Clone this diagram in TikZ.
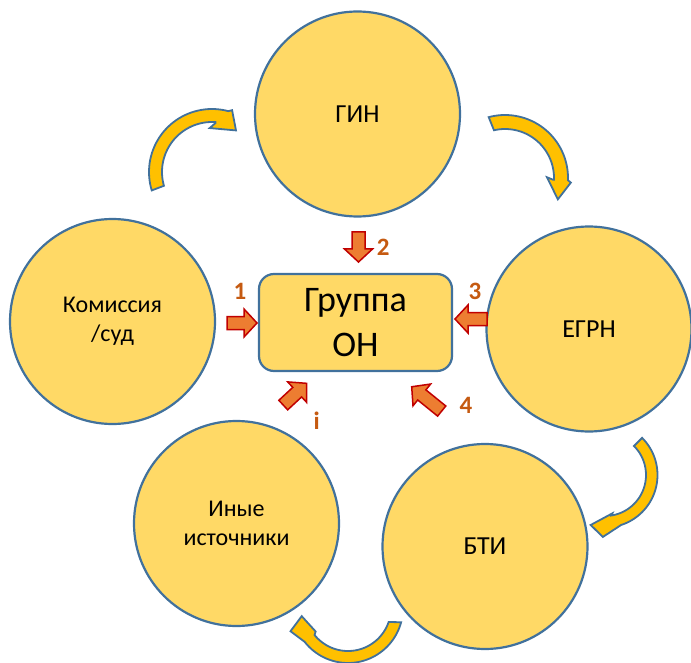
\documentclass[tikz,border=0pt]{standalone}
\usepackage{fontspec}
\setmainfont{Carlito}
\definecolor{circfill}{HTML}{FFD966}
\definecolor{circline}{HTML}{41719C}
\definecolor{arrfill}{HTML}{FFC000}
\definecolor{redfill}{HTML}{ED7D31}
\definecolor{redline}{HTML}{C00000}
\definecolor{numcol}{HTML}{C55A11}
\newcommand\inarr[5]{% name, x, y, screen angle, length
  \begin{scope}[shift={(#2,#3)}, rotate=-#4]
    \pgfmathsetmacro\arrhl{#5/2}
    \pgfmathsetmacro\arrhb{#5/2-13}
    \draw[inarrow] (-\arrhl,-6.5) -- (\arrhb,-6.5) -- (\arrhb,-14) -- (\arrhl,0)
      -- (\arrhb,14) -- (\arrhb,6.5) -- (-\arrhl,6.5) -- cycle;
    \coordinate (#1) at (0,0);
  \end{scope}}
\begin{document}
\begin{tikzpicture}[x=1pt,y=-1pt,
  src/.style={circle, draw=circline, fill=circfill, line width=2.2pt,
    minimum size=205pt, inner sep=0pt, align=center,
    font=\fontsize{24}{29}\selectfont},
  srcbig/.style={src, font=\fontsize{26}{30}\selectfont},
  grpbox/.style={rectangle, rounded corners=15pt, draw=circline, fill=circfill,
    line width=2.2pt, minimum width=193pt, minimum height=97pt, inner sep=0pt,
    align=center, font=\fontsize{36}{45}\selectfont},
  cycarrow/.style={draw=circline, fill=arrfill, line width=1.8pt, line join=miter},
  inarrow/.style={draw=redline, fill=redfill, line width=1.5pt},
  numlbl/.style={text=numcol, inner sep=0pt, font=\bfseries\fontsize{25}{25}\selectfont}
]
\useasboundingbox (0,0) rectangle (691,663);

% source circles
\node[srcbig] (gin)  at (357.5,114)   {ГИН};
\node[src]    (kom)  at (112.5,321.5) {Комиссия\\/суд};
\node[srcbig] (egrn) at (589,329)     {ЕГРН};
\node[srcbig] (bti)  at (485,546.5)   {БТИ};
\node[src]    (inye) at (236.5,523.5) {Иные\\источники};

% central box
\node[grpbox] (grp) at (355.5,322.5) {Группа\\ОН};

% cycle arrows
\begin{scope}[shift={(212,172)}]
  \draw[cycarrow] (163:63) -- plot[domain=163:285,samples=40] (\x:63)
    -- (288:65) -- (300:48) -- (267:44) -- (274:49)
    -- plot[domain=274:164,samples=40] (\x:50) -- cycle;
\end{scope}
\begin{scope}[shift={(505,178)}]
  \draw[cycarrow] (255:63) -- plot[domain=255:362,samples=40] (\x:63)
    -- (364:66) -- (382:57) -- (359:42) -- (362:48)
    -- plot[domain=362:257,samples=40] (\x:49) -- cycle;
\end{scope}
\begin{scope}[shift={(605,475)}]
  \draw[cycarrow] (-45:52.5) -- plot[domain=-45:72,samples=40] (\x:52.5)
    -- (92:62) -- (106:52) -- (79:39) -- (81:41)
    -- plot[domain=81:-45,samples=40] (\x:41) -- cycle;
\end{scope}
\begin{scope}[shift={(348,608)}]
  \draw[cycarrow] (15:55) -- plot[domain=15:142,samples=40] (\x:55)
    -- (158:62) -- (170:47) -- (144:40) -- (141:43)
    -- plot[domain=141:19,samples=40] (\x:43) -- cycle;
\end{scope}

% inflow arrows
\inarr{a2}{358.5}{247}{90}{30}
\inarr{a1}{242}{323}{0}{30}
\inarr{a3}{471}{319}{180}{32}
\inarr{a4}{426.7}{398.9}{-141}{38.6}
\inarr{ai}{295}{394.2}{-42.8}{32}

% labels
\node[numlbl] (n1) at (240,291.7) {1};
\node[numlbl] (n2) at (383.3,247.7) {2};
\node[numlbl] (n3) at (475,291.7) {3};
\node[numlbl] (n4) at (466,405) {4};
\node[numlbl] (ni) at (316.7,421) {i};
\end{tikzpicture}
\end{document}
